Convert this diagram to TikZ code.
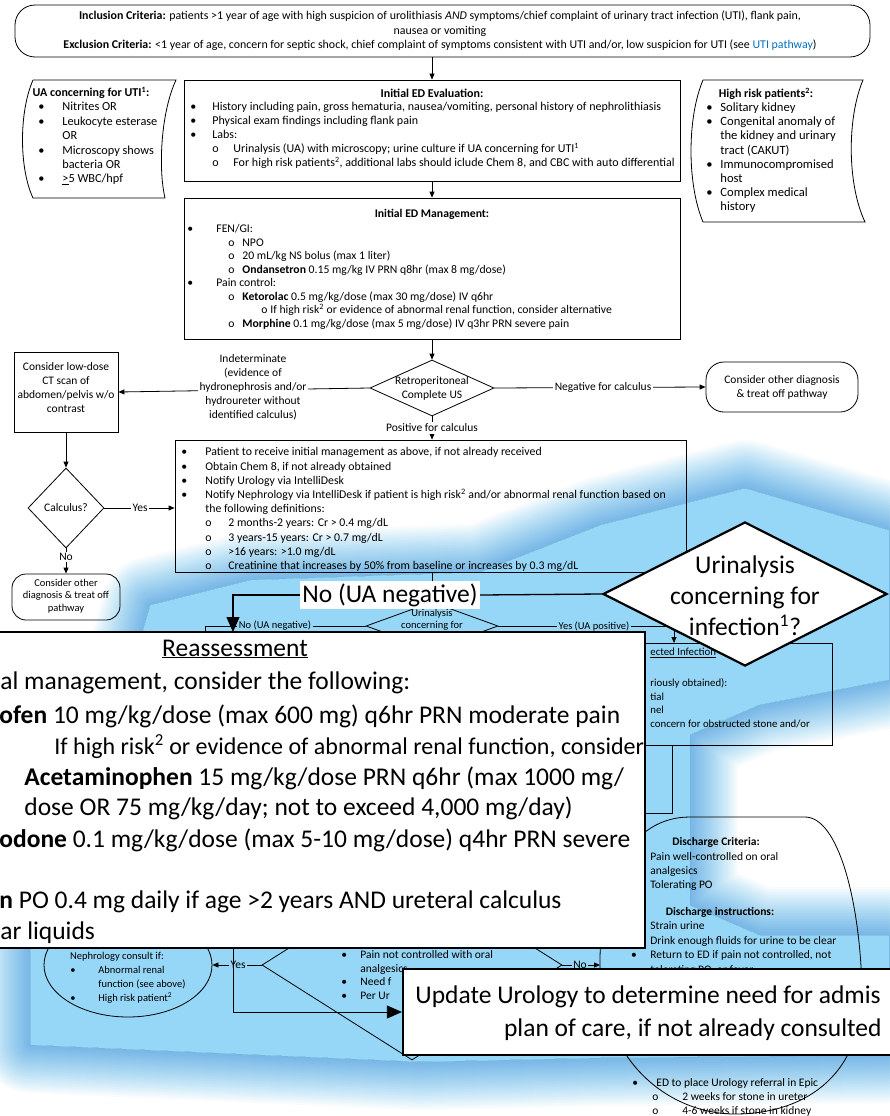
\documentclass[tikz,border=0pt]{standalone}
\usepackage{fontspec}
\setmainfont{Carlito}
\usetikzlibrary{arrows.meta,shapes.geometric}
\definecolor{glowblue}{RGB}{150,214,246}
\definecolor{linkblue}{RGB}{0,112,192}
\newcommand{\fsz}[2]{\fontsize{#1}{#2}\selectfont}
\newcommand{\bul}[1]{\makebox[#1][l]{•}}
\newcommand{\circitem}[2]{\hspace*{#1}\makebox[#2][l]{o}}
% outline of the highlighted region around the enlarged call-outs
\newcommand{\glowpath}{(150,605) -- (250,580) -- (480,572) -- (600,525) -- (745,488) -- (889,530) -- (889,680) -- (760,705) -- (690,735) -- (690,905) -- (760,935) -- (889,935) -- (889,1055) -- (600,1058) -- (420,1062) -- (30,1045) -- (30,900) -- (140,640) -- cycle}
\begin{document}
\begin{tikzpicture}[x=1pt,y=-1pt,line width=0.8pt,
  box/.style={draw, fill=white, line width=0.8pt, inner sep=0},
  txt/.style={inner sep=0, font=\fsz{11.5}{14}},
  para/.style={txt, anchor=north west, align=left},
  ctr/.style={txt, align=center},
  lbl/.style={txt, fill=white, inner sep=1.5pt, align=center},
  flow/.style={draw, line width=0.8pt, -{Triangle[length=6pt,width=5pt]}},
  bigflow/.style={draw, line width=1.3pt, -{Triangle[length=15pt,width=13pt]}},
  popup/.style={draw, fill=white, line width=2.2pt, inner sep=0},
  poptxt/.style={inner sep=0, font=\fsz{25.5}{31}},
  decision/.style={draw, fill=white, shape=diamond, inner sep=0, line width=0.8pt},
]
\useasboundingbox (0,0) rectangle (889,1116);
\fill[white] (0,0) rectangle (889,1116);

% ---------- inclusion / exclusion ----------
\node[box, rounded corners=20pt, minimum width=855, minimum height=52] (incl) at (442.5,31) {};
\node[ctr, font=\fsz{11.9}{14.5}] (incltxt) at (440,31) {\textbf{Inclusion Criteria:} patients >1 year of age with high suspicion of urolithiasis \textit{AND} symptoms/chief complaint of urinary tract infection (UTI), flank pain,\\nausea or vomiting\\\textbf{Exclusion Criteria:} <1 year of age, concern for septic shock, chief complaint of symptoms consistent with UTI and/or, low suspicion for UTI (see \textcolor{linkblue}{UTI pathway})};

% ---------- initial evaluation ----------
\node[box, minimum width=496, minimum height=101] (eval) at (432,130.5) {};
\node[txt, font=\bfseries\fsz{12}{14}] (evalttl) at (432,93) {Initial ED Evaluation:};
\node[para, font=\fsz{12}{14}] (evalbody) at (190,102.2) {\bul{22pt}History including pain, gross hematuria, nausea/vomiting, personal history of nephrolithiasis\\\bul{22pt}Physical exam findings including flank pain\\\bul{22pt}Labs:\\\circitem{22pt}{21pt}Urinalysis (UA) with microscopy; urine culture if UA concerning for UTI\textsuperscript{1}\\\circitem{22pt}{21pt}For high risk patients\textsuperscript{2}, additional labs should iclude Chem 8, and CBC with auto differential};
\draw[flow] (eval.north |- incl.south) -- (eval.north);

% ---------- UA concerning ----------
\draw[box] (33,80) -- (176,80) .. controls (161,112) and (158,168) .. (165,198) -- (33,198) .. controls (19,168) and (19,112) .. (33,80);
\node[txt, font=\bfseries\fsz{12}{14.5}] (uattl) at (91,93) {UA concerning for UTI\textsuperscript{1}:};
\node[para, font=\fsz{12.3}{14.4}] (uabody) at (38,102) {\bul{24pt}Nitrites OR\\\bul{24pt}Leukocyte esterase\\\hspace*{24pt}OR\\\bul{24pt}Microscopy shows\\\hspace*{24pt}bacteria OR\\\bul{24pt}\underline{>}5 WBC/hpf};

% ---------- high risk ----------
\draw[box] (703,80) -- (863,80) .. controls (847,118) and (847,184) .. (865,222) -- (703,222) .. controls (687,184) and (687,118) .. (703,80);
\node[txt, font=\bfseries\fsz{12}{14.5}] (hrttl) at (766,94) {High risk patients\textsuperscript{2}:};
\node[para, font=\fsz{12.6}{14.2}] (hrbody) at (706,102.3) {\bul{14pt}Solitary kidney\\\bul{14pt}Congenital anomaly of\\\hspace*{14pt}the kidney and urinary\\\hspace*{14pt}tract (CAKUT)\\\bul{14pt}Immunocompromised\\\hspace*{14pt}host\\\bul{14pt}Complex medical\\\hspace*{14pt}history};

% ---------- initial management ----------
\node[box, minimum width=496, minimum height=141] (mgmt) at (432,268.5) {};
\node[txt, font=\bfseries\fsz{11.7}{14}] (mgmtttl) at (432,214) {Initial ED Management:};
\node[para, font=\fsz{11.7}{13.5}] (mgmtbody) at (187,224.4) {\bul{29pt}FEN/GI:\\\circitem{41pt}{14pt}NPO\\\circitem{41pt}{14pt}20 mL/kg NS bolus (max 1 liter)\\\circitem{41pt}{14pt}\textbf{Ondansetron} 0.15 mg/kg IV PRN q8hr (max 8 mg/dose)\\\bul{29pt}Pain control:\\\circitem{41pt}{14pt}\textbf{Ketorolac} 0.5 mg/kg/dose (max 30 mg/dose) IV q6hr\\\circitem{74pt}{9pt}If high risk\textsuperscript{2} or evidence of abnormal renal function, consider alternative\\\circitem{41pt}{14pt}\textbf{Morphine} 0.1 mg/kg/dose (max 5 mg/dose) IV q3hr PRN severe pain};
\draw[flow] (eval.south) -- (mgmt.north);

% ---------- ultrasound decision ----------
\node[decision, minimum width=124, minimum height=56] (us) at (432,388) {};
\node[ctr] (ustxt) at (432,388) {Retroperitoneal\\Complete US};
\draw[flow] (mgmt.south) -- (us.north);

\node[box, minimum width=104, minimum height=80] (ct) at (66,392) {};
\node[ctr] (cttxt) at (66,388) {Consider low-dose\\CT scan of\\abdomen/pelvis w/o\\contrast};
\draw[flow] (us.west) -- (ct.east);
\node[lbl] (indet) at (253,387) {Indeterminate\\(evidence of\\hydronephrosis and/or\\hydroureter without\\identified calculus)};

\node[box, rounded corners=18pt, minimum width=152, minimum height=50] (other1) at (782,387) {};
\node[ctr] (other1txt) at (782,387) {Consider other diagnosis\\\& treat off pathway};
\draw[flow] (us.east) -- (other1.west);
\node[lbl] (neg) at (603,387) {Negative for calculus};

% ---------- positive for calculus ----------
\node[box, minimum width=511, minimum height=132] (calc) at (430.5,506) {};
\draw[flow] (us.south) -- (us.south |- calc.north);
\node[lbl] (pos) at (432,428) {Positive for calculus};
\node[para, font=\fsz{11.8}{14.2}] (calcbody) at (181,447.3) {\bul{24pt}Patient to receive initial management as above, if not already received\\\bul{24pt}Obtain Chem 8, if not already obtained\\\bul{24pt}Notify Urology via IntelliDesk\\\bul{24pt}Notify Nephrology via IntelliDesk if patient is high risk\textsuperscript{2} and/or abnormal renal function based on\\\hspace*{24pt}the following definitions:\\\circitem{24pt}{23pt}2 months-2 years: Cr > 0.4 mg/dL\\\circitem{24pt}{23pt}3 years-15 years: Cr > 0.7 mg/dL\\\circitem{24pt}{23pt}>16 years: >1.0 mg/dL\\\circitem{24pt}{23pt}Creatinine that increases by 50\% from baseline or increases by 0.3 mg/dL};

% ---------- CT branch ----------
\node[decision, minimum width=76, minimum height=80] (calcq) at (66,508) {};
\node[txt] (calcqtxt) at (66,508) {Calculus?};
\draw[flow] (ct.south) -- (calcq.north);
\draw[flow] (calcq.east) -- (calc.west |- calcq.east);
\node[lbl] (yes1) at (140,508) {Yes};
\node[box, rounded corners=14pt, minimum width=108, minimum height=46] (other2) at (66,597) {};
\node[ctr, font=\fsz{10.5}{12.5}] (other2txt) at (66,596) {Consider other\\diagnosis \& treat off\\pathway};
\draw[flow] (calcq.south) -- (other2.north);
\node[lbl] (no1) at (66,557) {No};

% ---------- lower flow (partly covered) ----------
\node[decision, minimum width=132, minimum height=48] (ua2) at (432,626) {};
\node[ctr, font=\fsz{10.5}{12}] (ua2txt) at (432,620) {Urinalysis\\concerning for};
\draw[flow] (calc.south -| ua2.north) -- (ua2.north);
\coordinate (noDown) at (205,645);
\draw (ua2.west) -| (noDown);
\node[lbl, font=\fsz{10.5}{12}] (no2) at (275,626) {No (UA negative)};

\node[box, minimum width=272, minimum height=102] (susp) at (696,694) {};
\coordinate (suspIn) at (674,643);
\draw[flow] (ua2.east) -| (suspIn);
\node[lbl, font=\fsz{10.5}{12}] (yes2) at (594,626) {Yes (UA positive)};
\node[txt, anchor=west, font=\fsz{10.8}{12}] (suspttl) at (650,653) {\underline{ected Infection}};
\node[para, font=\fsz{10.8}{13.5}] (suspbody) at (650,678.6) {riously obtained):\\tial\\nel\\concern for obstructed stone and/or};
\node[box, minimum width=112, minimum height=68] (lowbox) at (616,779) {};

% discharge
\draw[box] (600,962) .. controls (600,880) and (630,817) .. (690,817) -- (805,817) .. controls (838,817) and (860,900) .. (862,990) .. controls (862,1080) and (800,1114) .. (735,1114) .. controls (670,1114) and (600,1062) .. (600,962);
\node[txt, font=\bfseries\fsz{11.5}{14}] (dcttl) at (716,842) {Discharge Criteria:};
\node[para] (dcbody) at (650,852.4) {Pain well-controlled on oral\\analgesics\\Tolerating PO};
\node[txt, font=\bfseries\fsz{11.5}{14}] (dittl) at (720,912) {Discharge instructions:};
\node[para, font=\fsz{11.5}{14.5}] (dibody) at (650,921.4) {Strain urine\\Drink enough fluids for urine to be clear\\Return to ED if pain not controlled, not\\tolerating PO, or fever};
\node[txt] (dibul) at (634,956) {•};
\node[para, font=\fsz{11.5}{14}] (refbody) at (632,1078.4) {\bul{24pt}ED to place Urology referral in Epic\\\circitem{20pt}{30pt}2 weeks for stone in ureter\\\circitem{20pt}{30pt}4-6 weeks if stone in kidney};

% pain decision
\node[decision, minimum width=300, minimum height=190] (mid) at (412,965) {};
\node[para, font=\fsz{11.5}{13.5}] (midbody) at (341,950.4) {\bul{19pt}Pain not controlled with oral\\\hspace*{19pt}analgesics\\\bul{19pt}Need f\\\bul{19pt}Per Ur};

\node[draw, fill=white, ellipse, minimum width=168, minimum height=104, inner sep=0] (neph) at (128,965) {};
\node[txt, font=\fsz{10.5}{14}] (nephttl) at (117,957) {Nephrology consult if:};
\node[para, font=\fsz{10.5}{14}] (nephbody) at (70,965.8) {\bul{28pt}Abnormal renal\\\hspace*{28pt}function (see above)\\\bul{28pt}High risk patient\textsuperscript{2}};

\draw[flow] (mid.west) -- (neph.east);
\node[lbl] (yes3) at (238,965) {Yes};
\coordinate (dcIn) at (600,965);
\draw[flow] (mid.east) -- (dcIn);
\node[lbl] (no3) at (580,965) {No};

% ---------- soft highlight around the call-outs ----------
\begin{scope}[even odd rule]
  \clip (-100,-100) rectangle (1000,1300) \glowpath;
  \foreach \w in {4,8,...,96} {
    \draw[glowblue, line width=\w, opacity=0.068, line join=round, blend mode=multiply] \glowpath;
  }
\end{scope}
\fill[glowblue, blend mode=multiply] \glowpath;

% ---------- enlarged call-outs ----------
\node[popup, minimum width=660, minimum height=316] (reass) at (315,790) {};
\node[poptxt] (reassttl) at (235,649) {\underline{Reassessment}};
\node[poptxt, anchor=west] (r1) at (0,683) {al management, consider the following:};
\node[poptxt, anchor=west] (r2) at (-1,716) {\textbf{ofen} 10 mg/kg/dose (max 600 mg) q6hr PRN moderate pain};
\node[poptxt, anchor=west, font=\fsz{24}{31}] (r3) at (54,747) {If high risk\textsuperscript{2} or evidence of abnormal renal function, consider};
\node[poptxt, anchor=west] (r4) at (24,778) {\textbf{Acetaminophen} 15 mg/kg/dose PRN q6hr (max 1000 mg/};
\node[poptxt, anchor=west] (r5) at (24,808) {dose OR 75 mg/kg/day; not to exceed 4,000 mg/day)};
\node[poptxt, anchor=west] (r6) at (-1,840) {\textbf{odone} 0.1 mg/kg/dose (max 5-10 mg/dose) q4hr PRN severe};
\node[poptxt, anchor=west] (r7) at (-1,902) {\textbf{n} PO 0.4 mg daily if age >2 years AND ureteral calculus};
\node[poptxt, anchor=west] (r8) at (0,933) {ar liquids};

\node[popup, shape=diamond, minimum width=284, minimum height=144] (bigdia) at (745,594) {};
\node[poptxt, align=center] (bigdiatxt) at (745,596) {Urinalysis\\concerning for\\infection\textsuperscript{1}?};
\node[fill=white, inner sep=2pt, font=\fsz{25.5}{28}] (noUA) at (390,595) {No (UA negative)};
\coordinate (reassIn) at (233,632);
\draw[line width=1.3pt] (bigdia.west) -- (noUA.east);
\draw[bigflow] (noUA.west) -| (reassIn);

\coordinate (reassOut) at (233,948);
\node[popup, minimum width=500, minimum height=86] (update) at (653,1012) {};
\draw[bigflow, line width=0.8pt] (reassOut) |- (update.west);
\node[poptxt, anchor=west] (u1) at (415,997) {Update Urology to determine need for admis};
\node[poptxt, anchor=east] (u2) at (882,1030) {plan of care, if not already consulted};
\end{tikzpicture}
\end{document}
